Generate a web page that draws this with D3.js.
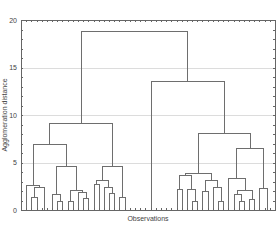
<!DOCTYPE html>
<html lang="en">
	<head>
		<meta charset="utf-8">
		<title>tree diagram</title>
		<script type="text/javascript" src="https://cdn.jsdelivr.net/npm/d3@7"></script>
		<style type="text/css">
			body {
			  margin: 0;
			  background: #fff;
			  font: 7px "Liberation Sans", Arial, sans-serif;
			}
			.link {
			  fill: none;
			  stroke: #6e6e6e;
			  stroke-width: 1;
			  shape-rendering: crispEdges;
			}
			.grid line {
			  stroke: #dcdcdc;
			  shape-rendering: crispEdges;
			}
			.axis path,
			.axis line {
			  fill: none;
			  stroke: #666;
			  shape-rendering: crispEdges;
			}
			.axis text {
			  fill: #444;
			  font-size: 7px;
			}
		</style>
	</head>
	<body>
		<script type="text/javascript">

			var w = 280;
			var h = 240;

			// observations in tree order, 1..48
			var nObs = 48;
			var yTicks = [0, 5, 10, 15, 20];

			// internal node = [distance, child, child, ...], leaf = observation number
			var clusterA1 = [2.6, 1, [2.4, [1.4, 2, 3], [0, 4, 5]]];
			var clusterA2 = [4.6, [1.7, 6, [1.0, 7, 8]], [2.1, [1.0, 9, 10], [1.9, 11, [1.3, 12, 13]]]];
			var clusterB = [4.6, [3.2, [2.7, 14, 15], [2.45, 16, [1.8, 17, 18]]], [1.4, 19, 20]];
			var clusterM = [0, 21, 22, 23, 24, 25, 26, 27, 28, 29];
			var clusterC1 = [3.9, [3.7, [2.2, 30, 31], [2.2, 32, [1.0, 33, 34]]], [3.15, [2.0, 35, 36], [2.4, 37, [0.9, 38, 39]]]];
			var clusterC2 = [6.5, [3.4, 40, [2.1, [1.7, 41, [1.0, 42, 43]], [1.2, 44, 45]]], [2.35, 46, [0, 47, 48]]];

			var tree = [18.8,
				[9.2, [7.0, clusterA1, clusterA2], clusterB],
				[13.6, clusterM, [8.07, clusterC1, clusterC2]]];

			var pLeft = 21, pRight = 275, pTop = 20, pBottom = 210;

			var x = d3.scaleLinear()
					  .domain([0, nObs + 1])
					  .range([pLeft, pRight]);

			var y = d3.scaleLinear()
					  .domain([0, 20])
					  .range([pBottom, pTop]);

			var svg = d3.select("body").append("svg")
				.attr("width", w)
				.attr("height", h);

			// grid
			svg.append("g")
			   .attr("class", "grid")
			   .selectAll("line")
			   .data([5, 10, 15])
			   .enter()
			   .append("line")
			   .attr("x1", pLeft)
			   .attr("x2", pRight)
			   .attr("y1", function(d) { return Math.round(y(d)) + 0.5; })
			   .attr("y2", function(d) { return Math.round(y(d)) + 0.5; });

			var root = d3.hierarchy(tree, function(d) { return Array.isArray(d) ? d.slice(1) : null; });

			root.eachAfter(function(d) {
				if (d.children) {
					d.px = (d.children[0].px + d.children[d.children.length - 1].px) / 2;
					d.dist = d.data[0];
				} else {
					d.px = x(d.data);
					d.dist = 0;
				}
			});

			function r(v) { return Math.round(v) + 0.5; }

			svg.append("g")
			   .selectAll("path")
			   .data(root.descendants().filter(function(d) { return d.children; }))
			   .enter()
			   .append("path")
			   .attr("class", "link")
			   .attr("d", function(d) {
				   var a = d.children[0], b = d.children[d.children.length - 1];
				   var p = "M" + r(a.px) + "," + r(y(a.dist)) + "V" + r(y(d.dist)) + "H" + r(b.px) + "V" + r(y(b.dist));
				   d.children.slice(1, -1).forEach(function(c) {
					   p += "M" + r(c.px) + "," + r(y(c.dist)) + "V" + r(y(d.dist));
				   });
				   return p;
			   });

			// axes
			svg.append("g")
			   .attr("class", "axis")
			   .attr("transform", "translate(" + pLeft + ",0)")
			   .call(d3.axisLeft(y).tickValues(yTicks).tickSize(0).tickPadding(4));

			svg.append("g")
			   .attr("class", "axis")
			   .attr("transform", "translate(" + pLeft + ",0)")
			   .call(d3.axisLeft(y).ticks(20).tickSize(-2).tickFormat(""));

			svg.append("g")
			   .attr("class", "axis")
			   .attr("transform", "translate(" + pRight + ",0)")
			   .call(d3.axisRight(y).ticks(20).tickSize(-2).tickFormat(""));

			svg.append("g")
			   .attr("class", "axis")
			   .attr("transform", "translate(0," + pBottom + ")")
			   .call(d3.axisBottom(x).tickValues(d3.range(1, nObs + 1)).tickSize(-2).tickFormat(""));

			svg.append("g")
			   .attr("class", "axis")
			   .attr("transform", "translate(0," + pTop + ")")
			   .call(d3.axisTop(x).tickValues(d3.range(1, nObs + 1)).tickSize(-2).tickFormat(""));

			svg.append("text")
			   .text("Agglomeration distance")
			   .attr("transform", "translate(7," + (pTop + pBottom) / 2 + ") rotate(-90)")
			   .attr("text-anchor", "middle")
			   .attr("fill", "#444")
			   .style("font-size", "7px");

			svg.append("text")
			   .text("Observations")
			   .attr("x", (pLeft + pRight) / 2)
			   .attr("y", 221)
			   .attr("text-anchor", "middle")
			   .attr("fill", "#444")
			   .style("font-size", "7px");

		</script>
	</body>
</html>
